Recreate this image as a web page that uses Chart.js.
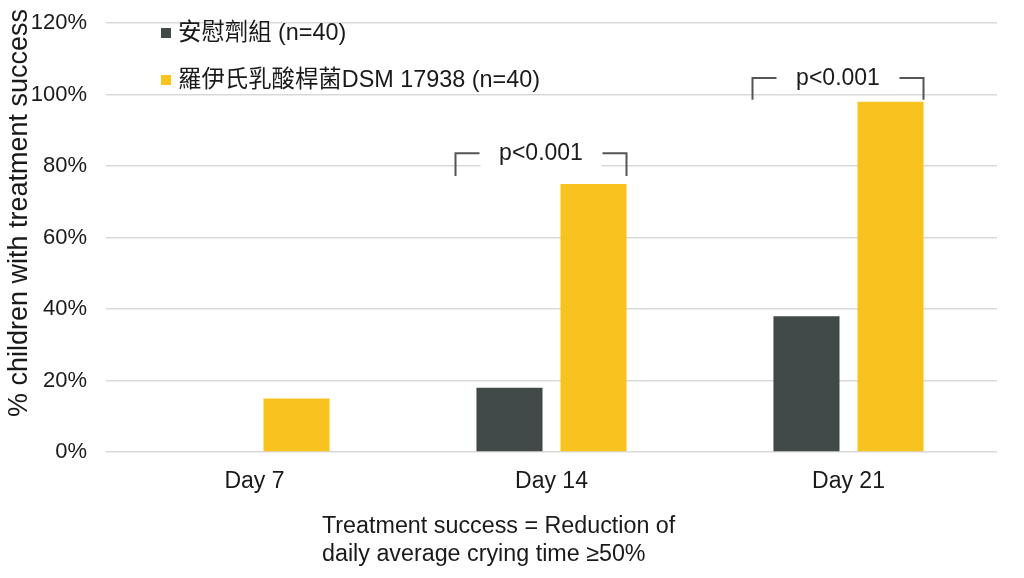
<!DOCTYPE html>
<html>
<head>
<meta charset="utf-8">
<script src="https://cdn.jsdelivr.net/npm/chart.js@4.4.0/dist/chart.umd.min.js"></script>
<style>
    html, body { margin: 0; padding: 0; background: #ffffff; }
    #wrap { width: 1024px; height: 578px; }
</style>
</head>
<body>
<div id="wrap"><canvas id="chart" width="1024" height="578"></canvas></div>
<script>
const categories = ['Day 7', 'Day 14', 'Day 21'];
const placeboValues = [0, 18, 38];
const probioticValues = [15, 75, 98];
const seriesNames = ['安慰劑組 (n=40)', '羅伊氏乳酸桿菌DSM 17938 (n=40)'];
const seriesColors = ['#414a48', '#f9c31f'];
const yTitle = '% children with treatment success';
const footNote = ['Treatment success = Reduction of', 'daily average crying time ≥50%'];
// brackets: category index, top and bottom of the bracket in axis units (%)
const brackets = [
    { cat: 1, top: 83.6, bottom: 77.2, label: 'p<0.001' },
    { cat: 2, top: 104.6, bottom: 98.5, label: 'p<0.001' }
];

const FONT = '"Liberation Sans", Arial, "Noto Sans CJK TC", sans-serif';

const extras = {
    id: 'extras',
    afterDatasetsDraw(chart) {
        const { ctx, scales: { x, y } } = chart;
        ctx.save();

        // p-value brackets
        brackets.forEach(b => {
            const cx = x.getPixelForValue(b.cat);
            const left = cx - 96;
            const right = cx + 75;
            const yt = y.getPixelForValue(b.top);
            const yb = y.getPixelForValue(b.bottom);
            const mid = (left + right) / 2;

            ctx.fillStyle = '#ffffff';
            ctx.fillRect(left + 25, yt - 14, right - left - 50, 30);

            ctx.strokeStyle = '#555555';
            ctx.lineWidth = 2;
            ctx.beginPath();
            ctx.moveTo(left, yb);
            ctx.lineTo(left, yt);
            ctx.lineTo(left + 24, yt);
            ctx.moveTo(right - 24, yt);
            ctx.lineTo(right, yt);
            ctx.lineTo(right, yb);
            ctx.stroke();

            ctx.fillStyle = '#1a1a1a';
            ctx.font = '23px ' + FONT;
            ctx.textAlign = 'center';
            ctx.textBaseline = 'middle';
            ctx.fillText(b.label, mid, yt + 1);
        });

        // legend (inside plot, top left)
        ctx.font = '23.4px ' + FONT;
        ctx.textAlign = 'left';
        ctx.textBaseline = 'middle';
        const legendY = [33, 80];
        seriesNames.forEach((name, i) => {
            ctx.fillStyle = seriesColors[i];
            ctx.fillRect(161, legendY[i] - 5, 10, 10);
            ctx.fillStyle = '#1a1a1a';
            ctx.fillText(name, 178, legendY[i] + 1);
        });

        // y axis title
        ctx.save();
        ctx.translate(20, 213);
        ctx.rotate(-Math.PI / 2);
        ctx.font = '27px ' + FONT;
        ctx.textAlign = 'center';
        ctx.textBaseline = 'middle';
        ctx.fillStyle = '#1a1a1a';
        ctx.fillText(yTitle, 0, 0);
        ctx.restore();

        // footnote under the axis
        ctx.font = '23.3px ' + FONT;
        ctx.textAlign = 'left';
        ctx.textBaseline = 'alphabetic';
        ctx.fillStyle = '#1a1a1a';
        footNote.forEach((line, i) => {
            ctx.fillText(line, 322, 533 + i * 28);
        });

        ctx.restore();
    }
};

document.addEventListener('DOMContentLoaded', function() {
    const ctx = document.getElementById('chart');

    new Chart(ctx, {
        type: 'bar',
        data: {
            labels: categories,
            datasets: [
                {
                    label: seriesNames[0],
                    data: placeboValues,
                    backgroundColor: seriesColors[0],
                    borderWidth: 0
                },
                {
                    label: seriesNames[1],
                    data: probioticValues,
                    backgroundColor: seriesColors[1],
                    borderWidth: 0
                }
            ]
        },
        options: {
            responsive: false,
            animation: false,
            categoryPercentage: 0.566,
            barPercentage: 0.786,
            layout: { padding: { top: 23, right: 27, bottom: 0, left: 0 } },
            plugins: {
                legend: { display: false },
                tooltip: { enabled: false }
            },
            scales: {
                x: {
                    grid: { display: false, drawTicks: false },
                    border: { display: false },
                    ticks: {
                        color: '#1a1a1a',
                        font: { family: FONT, size: 23 },
                        padding: 16
                    },
                    afterFit: s => { s.height = 126; }
                },
                y: {
                    min: 0,
                    max: 120,
                    grid: { color: '#d9d9d9', lineWidth: 1.5, drawTicks: false },
                    border: { display: false },
                    ticks: {
                        stepSize: 20,
                        color: '#1a1a1a',
                        font: { family: FONT, size: 22 },
                        padding: 19,
                        callback: v => v + '%'
                    },
                    afterFit: s => {
                        s.width = 106;
                        s.paddingTop = 0;
                        s.paddingBottom = 0;
                    }
                }
            }
        },
        plugins: [extras]
    });
});
</script>
</body>
</html>
